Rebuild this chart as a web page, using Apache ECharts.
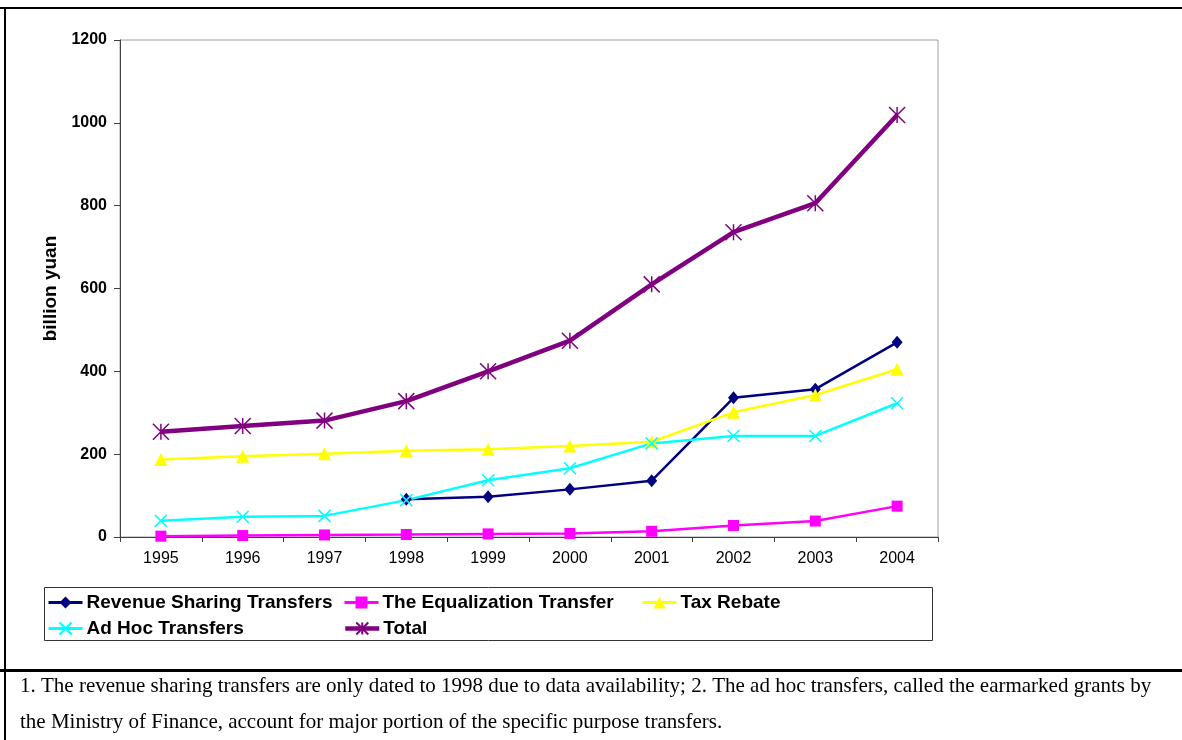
<!DOCTYPE html>
<html>
<head>
<meta charset="utf-8">
<script src="https://cdn.jsdelivr.net/npm/echarts@6/dist/echarts.min.js"></script>
<style>
html,body{margin:0;padding:0;background:#fff;}
#chart{width:1182px;height:740px;}
</style>
</head>
<body>
<div id="chart"></div>
<script>
const years = ['1995','1996','1997','1998','1999','2000','2001','2002','2003','2004'];
const yTicks = [0, 200, 400, 600, 800, 1000, 1200];
const revenueSharing = [null, null, null, 91, 97, 115, 136, 336, 357, 470];
const equalization = [2, 3.5, 5, 6.1, 7.5, 8.6, 13.8, 27.9, 38.5, 74.5];
const taxRebate = [187, 195, 201, 208, 212, 220, 230, 301, 343, 405];
const adHoc = [39, 49, 51, 89, 137, 166, 226, 244, 244, 323];
const total = [254, 268, 281, 328, 400, 474, 610, 736, 806, 1019];
const seriesNames = ['Revenue Sharing Transfers', 'The Equalization Transfer', 'Tax Rebate', 'Ad Hoc Transfers', 'Total'];
const yAxisName = 'billion yuan';
const footnote1 = '1. The revenue sharing transfers are only dated to 1998 due to data availability; 2. The ad hoc transfers, called the earmarked grants by';
const footnote2 = 'the Ministry of Finance, account for major portion of the specific purpose transfers.';

const SANS = 'Liberation Sans, Arial, sans-serif';
const SERIF = 'Liberation Serif, Times New Roman, serif';
const crossPath = 'path://M0,0L10,10M10,0L0,10';
const starPath = 'path://M0,0L10,10M10,0L0,10M5,0L5,10';

const chart = echarts.init(document.getElementById('chart'), null, {renderer: 'canvas'});

function legendAt(name, left, top, lw) {
  return {
    data: [name], left: left, top: top, padding: 0,
    itemWidth: 34, itemHeight: 15, selectedMode: false,
    lineStyle: {width: lw},
    textStyle: {fontFamily: SANS, fontSize: 19, fontWeight: 'bold', color: '#000', padding: [0,0,0,-1]}
  };
}

chart.setOption({
  animation: false,
  backgroundColor: '#fff',
  grid: {left: 120, top: 40, right: 244, bottom: 203, show: true, borderColor: '#a0a0a0', borderWidth: 1, containLabel: false},
  xAxis: {
    type: 'category', data: years, boundaryGap: true,
    axisLine: {lineStyle: {color: '#404040', width: 1}},
    axisTick: {show: true, length: 5, alignWithLabel: false, lineStyle: {color: '#404040'}},
    axisLabel: {fontFamily: SANS, fontSize: 16, color: '#000', margin: 14}
  },
  yAxis: {
    type: 'value', min: yTicks[0], max: yTicks[yTicks.length-1], interval: yTicks[1]-yTicks[0],
    name: yAxisName, nameLocation: 'middle', nameGap: 58, nameRotate: 90,
    nameTextStyle: {fontFamily: SANS, fontSize: 19, fontWeight: 'bold', color: '#000'},
    axisLine: {show: true, lineStyle: {color: '#404040', width: 1}},
    axisTick: {show: true, length: 6, lineStyle: {color: '#404040'}},
    axisLabel: {fontFamily: SANS, fontSize: 16, fontWeight: 'bold', color: '#000', margin: 13,
                formatter: function (v) { return String(v); }},
    splitLine: {show: false}
  },
  legend: [
    legendAt(seriesNames[0], 47, 593, 3),
    legendAt(seriesNames[1], 343, 593, 3),
    legendAt(seriesNames[2], 641, 593, 3),
    legendAt(seriesNames[3], 47, 619, 3),
    legendAt(seriesNames[4], 343, 619, 4.5)
  ],
  series: [
    {name: seriesNames[0], type: 'line', data: revenueSharing, symbol: 'diamond', symbolSize: [11, 13],
     lineStyle: {color: '#000080', width: 2.5}, itemStyle: {color: '#000080'}},
    {name: seriesNames[1], type: 'line', data: equalization, symbol: 'rect', symbolSize: 11,
     lineStyle: {color: '#FF00FF', width: 2.5}, itemStyle: {color: '#FF00FF'}},
    {name: seriesNames[2], type: 'line', data: taxRebate, symbol: 'triangle', symbolSize: 13,
     lineStyle: {color: '#FFFF00', width: 2.5}, itemStyle: {color: '#FFFF00'}},
    {name: seriesNames[3], type: 'line', data: adHoc, symbol: crossPath, symbolSize: 12,
     lineStyle: {color: '#00FFFF', width: 2.5}, itemStyle: {color: '#00FFFF', borderColor: '#00FFFF', borderWidth: 1.5}},
    {name: seriesNames[4], type: 'line', data: total, symbol: starPath, symbolSize: 16,
     lineStyle: {color: '#800080', width: 4.5}, itemStyle: {color: '#800080', borderColor: '#800080', borderWidth: 1.5}}
  ],
  graphic: [
    {type: 'line', shape: {x1: 0, y1: 8, x2: 1182, y2: 8}, style: {stroke: '#000', lineWidth: 2}, silent: true},
    {type: 'line', shape: {x1: 5, y1: 8, x2: 5, y2: 740}, style: {stroke: '#000', lineWidth: 2}, silent: true},
    {type: 'line', shape: {x1: 0, y1: 670.5, x2: 1182, y2: 670.5}, style: {stroke: '#000', lineWidth: 3}, silent: true},
    {type: 'rect', shape: {x: 44.5, y: 587.5, width: 888, height: 53}, style: {fill: 'none', stroke: '#333', lineWidth: 1}, silent: true},
    {type: 'text', x: 20, y: 686, style: {text: footnote1, font: '21px ' + SERIF, fill: '#000', verticalAlign: 'middle'}, silent: true},
    {type: 'text', x: 20, y: 722, style: {text: footnote2, font: '21px ' + SERIF, fill: '#000', verticalAlign: 'middle'}, silent: true}
  ]
});
</script>
</body>
</html>
